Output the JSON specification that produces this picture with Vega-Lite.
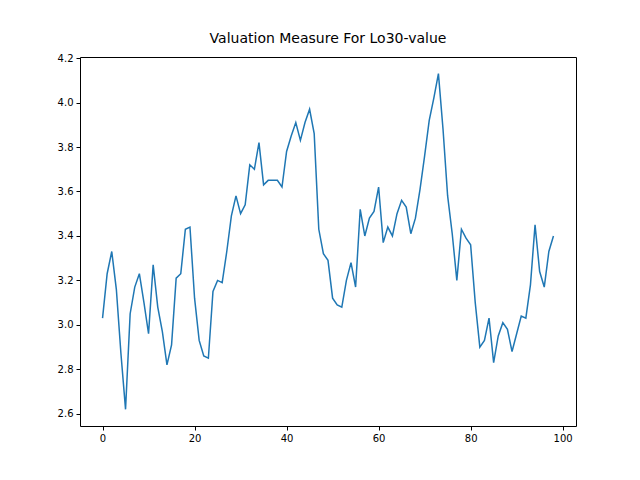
{
  "$schema": "https://vega.github.io/schema/vega-lite/v6.json",
  "width": 496,
  "height": 369,
  "padding": {"left": 57, "top": 32, "right": 64, "bottom": 0},
  "autosize": {"type": "pad"},
  "title": {"text": "Valuation Measure For Lo30-value", "fontSize": 14, "fontWeight": "normal", "font": "DejaVu Sans", "color": "black", "offset": 7},
  "data": {
    "values": [
      {"x":0,"v":3.03},{"x":1,"v":3.23},{"x":2,"v":3.33},{"x":3,"v":3.16},{"x":4,"v":2.87},{"x":5,"v":2.62},{"x":6,"v":3.05},{"x":7,"v":3.17},{"x":8,"v":3.23},{"x":9,"v":3.10},
      {"x":10,"v":2.96},{"x":11,"v":3.27},{"x":12,"v":3.08},{"x":13,"v":2.97},{"x":14,"v":2.82},{"x":15,"v":2.91},{"x":16,"v":3.21},{"x":17,"v":3.23},{"x":18,"v":3.43},{"x":19,"v":3.44},
      {"x":20,"v":3.12},{"x":21,"v":2.93},{"x":22,"v":2.86},{"x":23,"v":2.85},{"x":24,"v":3.15},{"x":25,"v":3.20},{"x":26,"v":3.19},{"x":27,"v":3.33},{"x":28,"v":3.49},{"x":29,"v":3.58},
      {"x":30,"v":3.50},{"x":31,"v":3.54},{"x":32,"v":3.72},{"x":33,"v":3.70},{"x":34,"v":3.82},{"x":35,"v":3.63},{"x":36,"v":3.65},{"x":37,"v":3.65},{"x":38,"v":3.65},{"x":39,"v":3.62},
      {"x":40,"v":3.78},{"x":41,"v":3.85},{"x":42,"v":3.91},{"x":43,"v":3.83},{"x":44,"v":3.91},{"x":45,"v":3.97},{"x":46,"v":3.86},{"x":47,"v":3.43},{"x":48,"v":3.32},{"x":49,"v":3.29},
      {"x":50,"v":3.12},{"x":51,"v":3.09},{"x":52,"v":3.08},{"x":53,"v":3.20},{"x":54,"v":3.28},{"x":55,"v":3.17},{"x":56,"v":3.52},{"x":57,"v":3.40},{"x":58,"v":3.48},{"x":59,"v":3.51},
      {"x":60,"v":3.62},{"x":61,"v":3.37},{"x":62,"v":3.44},{"x":63,"v":3.40},{"x":64,"v":3.50},{"x":65,"v":3.56},{"x":66,"v":3.53},{"x":67,"v":3.41},{"x":68,"v":3.48},{"x":69,"v":3.61},
      {"x":70,"v":3.76},{"x":71,"v":3.92},{"x":72,"v":4.02},{"x":73,"v":4.13},{"x":74,"v":3.88},{"x":75,"v":3.58},{"x":76,"v":3.41},{"x":77,"v":3.20},{"x":78,"v":3.43},{"x":79,"v":3.39},
      {"x":80,"v":3.36},{"x":81,"v":3.10},{"x":82,"v":2.90},{"x":83,"v":2.93},{"x":84,"v":3.03},{"x":85,"v":2.83},{"x":86,"v":2.95},{"x":87,"v":3.01},{"x":88,"v":2.98},{"x":89,"v":2.88},
      {"x":90,"v":2.96},{"x":91,"v":3.04},{"x":92,"v":3.03},{"x":93,"v":3.18},{"x":94,"v":3.45},{"x":95,"v":3.24},{"x":96,"v":3.17},{"x":97,"v":3.33},{"x":98,"v":3.40}
    ]
  },
  "mark": {"type": "line", "color": "#1f77b4", "strokeWidth": 1.5},
  "encoding": {
    "x": {"field": "x", "type": "quantitative", "title": null,
      "scale": {"domain": [-4.9, 102.9], "nice": false, "zero": false},
      "axis": {"values": [0, 20, 40, 60, 80, 100], "grid": false}},
    "y": {"field": "v", "type": "quantitative", "title": null,
      "scale": {"domain": [2.545, 4.205], "nice": false, "zero": false},
      "axis": {"values": [2.6, 2.8, 3.0, 3.2, 3.4, 3.6, 3.8, 4.0, 4.2], "format": ".1f", "grid": false}}
  },
  "config": {
    "font": "DejaVu Sans",
    "view": {"stroke": "black", "strokeWidth": 1},
    "axis": {"domain": false, "tickColor": "black", "tickSize": 4, "labelColor": "black", "labelFontSize": 10, "labelPadding": 3}
  }
}
